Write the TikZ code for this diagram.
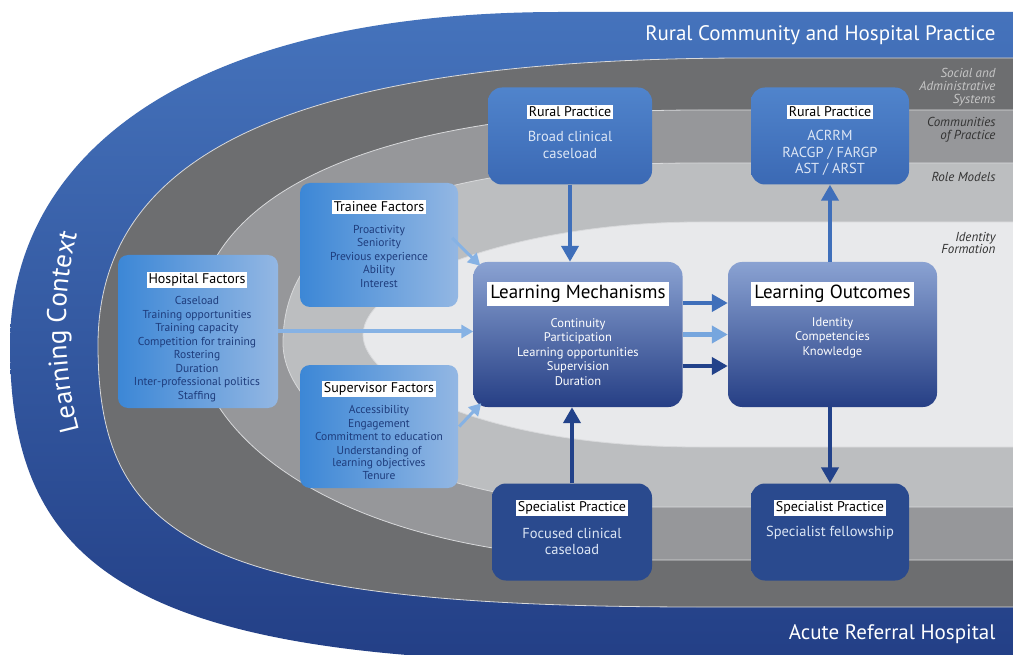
\documentclass[tikz,border=0pt]{standalone}
\usepackage{fontspec}
\setmainfont{PT Sans}
\usetikzlibrary{arrows.meta,decorations.text}

\definecolor{bluetop}{HTML}{4573BC}
\definecolor{bluebot}{HTML}{233F86}
\definecolor{graydark}{HTML}{6D6E70}
\definecolor{graymid}{HTML}{96979A}
\definecolor{graylight}{HTML}{BCBEC0}
\definecolor{grayinner}{HTML}{E8E9EB}
\definecolor{bandline}{HTML}{D8D9DB}
\definecolor{facL}{HTML}{3C87D6}
\definecolor{facR}{HTML}{93B7E3}
\definecolor{mechtop}{HTML}{8AA2D2}
\definecolor{mechbot}{HTML}{263F85}
\definecolor{ruraltop}{HTML}{5084CC}
\definecolor{ruralbot}{HTML}{3B69B4}
\definecolor{specblue}{HTML}{2A4A8E}
\definecolor{navytext}{HTML}{1E3C7C}
\definecolor{paletext}{HTML}{DCE6F5}
\definecolor{arrmid}{HTML}{3F6FBA}
\definecolor{arrlight}{HTML}{76A6DE}
\definecolor{arrdark}{HTML}{22428A}
\definecolor{arrfac}{HTML}{86B2E4}

\begin{document}
\begin{tikzpicture}[x=1pt,y=-1pt,
  facbox/.style={rounded corners=10pt, left color=facL, right color=facR, inner sep=0pt},
  mechbox/.style={rounded corners=14pt, top color=mechtop, bottom color=mechbot, inner sep=0pt,
    minimum width=209pt, minimum height=145pt},
  rurbox/.style={rounded corners=14pt, top color=ruraltop, bottom color=ruralbot, inner sep=0pt,
    minimum width=160pt, minimum height=97pt},
  specbox/.style={rurbox, top color=specblue, bottom color=specblue},
  headtxt/.style={fill=white, text=black, inner sep=1.8pt, font=\fontsize{14}{16}\selectfont},
  bighead/.style={headtxt, inner sep=3pt, font=\fontsize{19}{21}\selectfont},
  itemtxt/.style={align=center, text=navytext, font=\fontsize{11.5}{13.5}\selectfont},
  mechtxt/.style={align=center, text=white, font=\fontsize{12.5}{14.5}\selectfont},
  rurtxt/.style={align=center, text=paletext, font=\fontsize{14.5}{16.5}\selectfont},
  sidetxt/.style={anchor=east, align=right, text=black!80, font=\itshape\fontsize{13}{12.8}\selectfont},
  flow/.style={-{Triangle[width=17pt,length=16pt]}, line width=4.5pt},
  facflow/.style={-{Triangle[width=13pt,length=12pt]}, line width=4pt, arrfac}]

\useasboundingbox (0,0) rectangle (1013,655);
\fill[white] (0,0) rectangle (1013,655);

% context bands, outer to inner
\begin{scope}
\clip (0,0) rectangle (1013,655);
\shade[top color=bluetop, bottom color=bluebot] (1013,12) -- (560,12)
  .. controls (180,12) and (10,160) .. (10,345)
  .. controls (10,560) and (120,662) .. (600,662) -- (1013,662) -- cycle;
\fill[graydark, draw=bandline, line width=0.8pt] (1020,58) -- (750,58)
  .. controls (300,58) and (98,150) .. (98,345)
  .. controls (98,540) and (200,607) .. (700,607) -- (1020,607) -- cycle;
\fill[graymid, draw=bandline, line width=0.8pt] (1020,110) -- (700,110)
  .. controls (380,110) and (195,190) .. (195,335)
  .. controls (195,430) and (330,560) .. (650,560) -- (1020,560) -- cycle;
\fill[graylight, draw=bandline, line width=0.8pt] (1020,163) -- (700,163)
  .. controls (420,163) and (283,220) .. (283,343)
  .. controls (283,420) and (420,507) .. (650,507) -- (1020,507) -- cycle;
\fill[grayinner, draw=bandline, line width=0.8pt] (1020,222) -- (700,222)
  .. controls (520,222) and (363,280) .. (363,335)
  .. controls (363,380) and (480,447) .. (700,447) -- (1020,447) -- cycle;
\end{scope}

\path[decorate, decoration={text along path, text align=center, text color=white,
  text={|\fontsize{27}{27}\selectfont|Learning Context}}]
  (100,485) .. controls (57,405) and (52,255) .. (100,180);

\node[anchor=east, text=white, font=\fontsize{21}{24}\selectfont] (ruralctx) at (999,35) {Rural Community and Hospital Practice};
\node[anchor=east, text=white, font=\fontsize{21}{24}\selectfont] (acutectx) at (999,634) {Acute Referral Hospital};

\node[sidetxt, text=black!22] (social) at (999,87) {Social and\\Administrative\\Systems};
\node[sidetxt] (community) at (999,130) {Communities\\of Practice};
\node[sidetxt] (rolemodel) at (999,177) {Role Models};
\node[sidetxt] (identity) at (999,243) {Identity\\Formation};

% factor boxes
\node[facbox, minimum width=160pt, minimum height=153pt] (hosp) at (198,331.5) {};
\node[headtxt] (hospT) at (197,280) {Hospital Factors};
\node[itemtxt] (hospI) at (197,349) {Caseload\\Training opportunities\\Training capacity\\Competition for training\\Rostering\\Duration\\Inter-professional politics\\Staffing};

\node[facbox, minimum width=158pt, minimum height=124pt] (trainee) at (379,245) {};
\node[headtxt] (traineeT) at (379,207) {Trainee Factors};
\node[itemtxt] (traineeI) at (379,256) {Proactivity\\Seniority\\Previous experience\\Ability\\Interest};

\node[facbox, minimum width=158pt, minimum height=123pt] (superv) at (379,426.5) {};
\node[headtxt] (supervT) at (379,389) {Supervisor Factors};
\node[itemtxt] (supervI) at (379,442.5) {Accessibility\\Engagement\\Commitment to education\\Understanding of\\[-1.5pt]learning objectives\\Tenure};

% mechanisms and outcomes
\node[mechbox] (mech) at (578,334.5) {};
\node[bighead] (mechT) at (578,294) {Learning Mechanisms};
\node[mechtxt] (mechI) at (578,352) {Continuity\\Participation\\Learning opportunities\\Supervision\\Duration};

\node[mechbox] (outc) at (832.5,334.5) {};
\node[bighead] (outcT) at (832.5,294) {Learning Outcomes};
\node[mechtxt] (outcI) at (832.5,337.5) {Identity\\Competencies\\Knowledge};

% practice boxes
\node[rurbox, minimum width=164pt] (rurL) at (570,136) {};
\node[headtxt] (rurLT) at (570,112) {Rural Practice};
\node[rurtxt] (rurLI) at (570,145) {Broad clinical\\caseload};

\node[rurbox, minimum width=158pt] (rurR) at (830,136) {};
\node[headtxt] (rurRT) at (830,112) {Rural Practice};
\node[rurtxt] (rurRI) at (830,153) {ACRRM\\RACGP / FARGP\\AST / ARST};

\node[specbox] (specL) at (572,532) {};
\node[headtxt] (specLT) at (572,508) {Specialist Practice};
\node[rurtxt] (specLI) at (572,541.5) {Focused clinical\\caseload};

\node[specbox, minimum width=158pt] (specR) at (830,532) {};
\node[headtxt] (specRT) at (830,508) {Specialist Practice};
\node[rurtxt] (specRI) at (830,533) {Specialist fellowship};

% arrows
\draw[facflow] (hosp.east) -- (hosp.east -| mech.west);
\draw[facflow, line width=3pt] ([xshift=-6pt,yshift=7pt]trainee.east) -- ([xshift=7pt,yshift=-4pt]mech.north west);
\draw[facflow, line width=3pt] ([xshift=1pt]superv.east) -- ([xshift=8pt,yshift=4pt]mech.south west);

\draw[flow, arrmid] (rurL.south) -- (rurL.south |- mech.north);
\draw[flow, arrdark] (specL.north) -- (specL.north |- mech.south);
\draw[flow, arrmid] (rurR.south |- outc.north) -- (rurR.south);
\draw[flow, arrdark] (specR.north |- outc.south) -- (specR.north);

\draw[flow, arrmid] ([yshift=31.5pt]mech.east) -- ([yshift=31.5pt]outc.west);
\draw[flow, arrlight] (mech.east) -- (outc.west);
\draw[flow, arrdark] ([yshift=-31.5pt]mech.east) -- ([yshift=-31.5pt]outc.west);
\end{tikzpicture}
\end{document}
